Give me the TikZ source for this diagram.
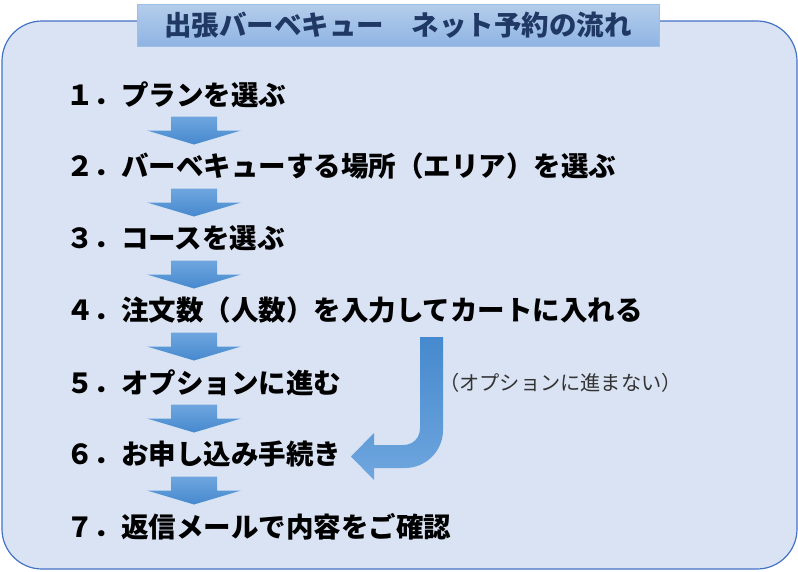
\documentclass[tikz,border=0pt]{standalone}
\usepackage{fontspec}
\newfontfamily\jpfont{Noto Sans CJK JP}
\usetikzlibrary{calc}
\definecolor{panelfill}{HTML}{DAE3F3}
\definecolor{paneldraw}{HTML}{4472C4}
\definecolor{titletop}{HTML}{B4CDEB}
\definecolor{titlebot}{HTML}{8FB4E3}
\definecolor{titletext}{HTML}{1F3864}
\definecolor{arrowlight}{HTML}{6FA6DE}
\definecolor{arrowdark}{HTML}{4689CE}
\begin{document}
\begin{tikzpicture}[x=1pt,y=-1pt,
        stepnode/.style={anchor=west,inner sep=0pt,
            font=\jpfont\bfseries\fontsize{27.5}{33}\selectfont},
        blockarrow/.style={top color=arrowlight,bottom color=arrowdark},
        skiparrow/.style={top color=arrowdark,bottom color=arrowlight}]
    \useasboundingbox (0,0) rectangle (798,571);
    \draw[fill=panelfill,draw=paneldraw,line width=1.2pt,rounded corners=40pt]
        (2,21) rectangle (797,569);
    \node[draw={rgb,255:red,157;green,190;blue,230},top color=titletop,
        bottom color=titlebot,minimum width=522pt,minimum height=42pt,
        inner sep=0pt,text=titletext,
        font=\jpfont\bfseries\fontsize{27.5}{33}\selectfont]
        (title) at (398,25) {出張バーベキュー　ネット予約の流れ};

    \node[stepnode] (s1) at (66,94.5) {１．プランを選ぶ};
    \node[stepnode] (s2) at (66,166.5) {２．バーベキューする場所（エリア）を選ぶ};
    \node[stepnode] (s3) at (66,238.5) {３．コースを選ぶ};
    \node[stepnode] (s4) at (66,310.5) {４．注文数（人数）を入力してカートに入れる};
    \node[stepnode] (s5) at (66,382.5) {５．オプションに進む};
    \node[stepnode] (s6) at (66,454.5) {６．お申し込み手続き};
    \node[stepnode] (s7) at (66,526.5) {７．返信メールで内容をご確認};

    \foreach \i/\j in {1/2,2/3,3/4,4/5,5/6,6/7} {
        \coordinate (m\i) at ($(s\i.west)!.5!(s\j.west)$);
        \path[blockarrow] ([shift={(105,-14)}]m\i) -- ++(46,0) -- ++(0,14)
            -- ++(24,0) -- ++(-47,14) -- ++(-47,-14) -- ++(24,0) -- cycle;
    }

    \coordinate (skiptop) at (420,337);
    \path[skiparrow] (skiptop) -- (443,337) -- (443,430)
        .. controls (443,451) and (426,468) .. (405,468) -- (374,468)
        -- (374,480) -- (351,456.5) -- (374,433) -- (374,445) -- (403,445)
        .. controls (413,445) and (420,438) .. (420,428) -- cycle;
    \node[anchor=west,inner sep=0pt,text={rgb,255:red,51;green,51;blue,51},
        font=\jpfont\fontsize{20.2}{24}\selectfont]
        (skip) at (439,383) {（オプションに進まない）};
\end{tikzpicture}
\end{document}
